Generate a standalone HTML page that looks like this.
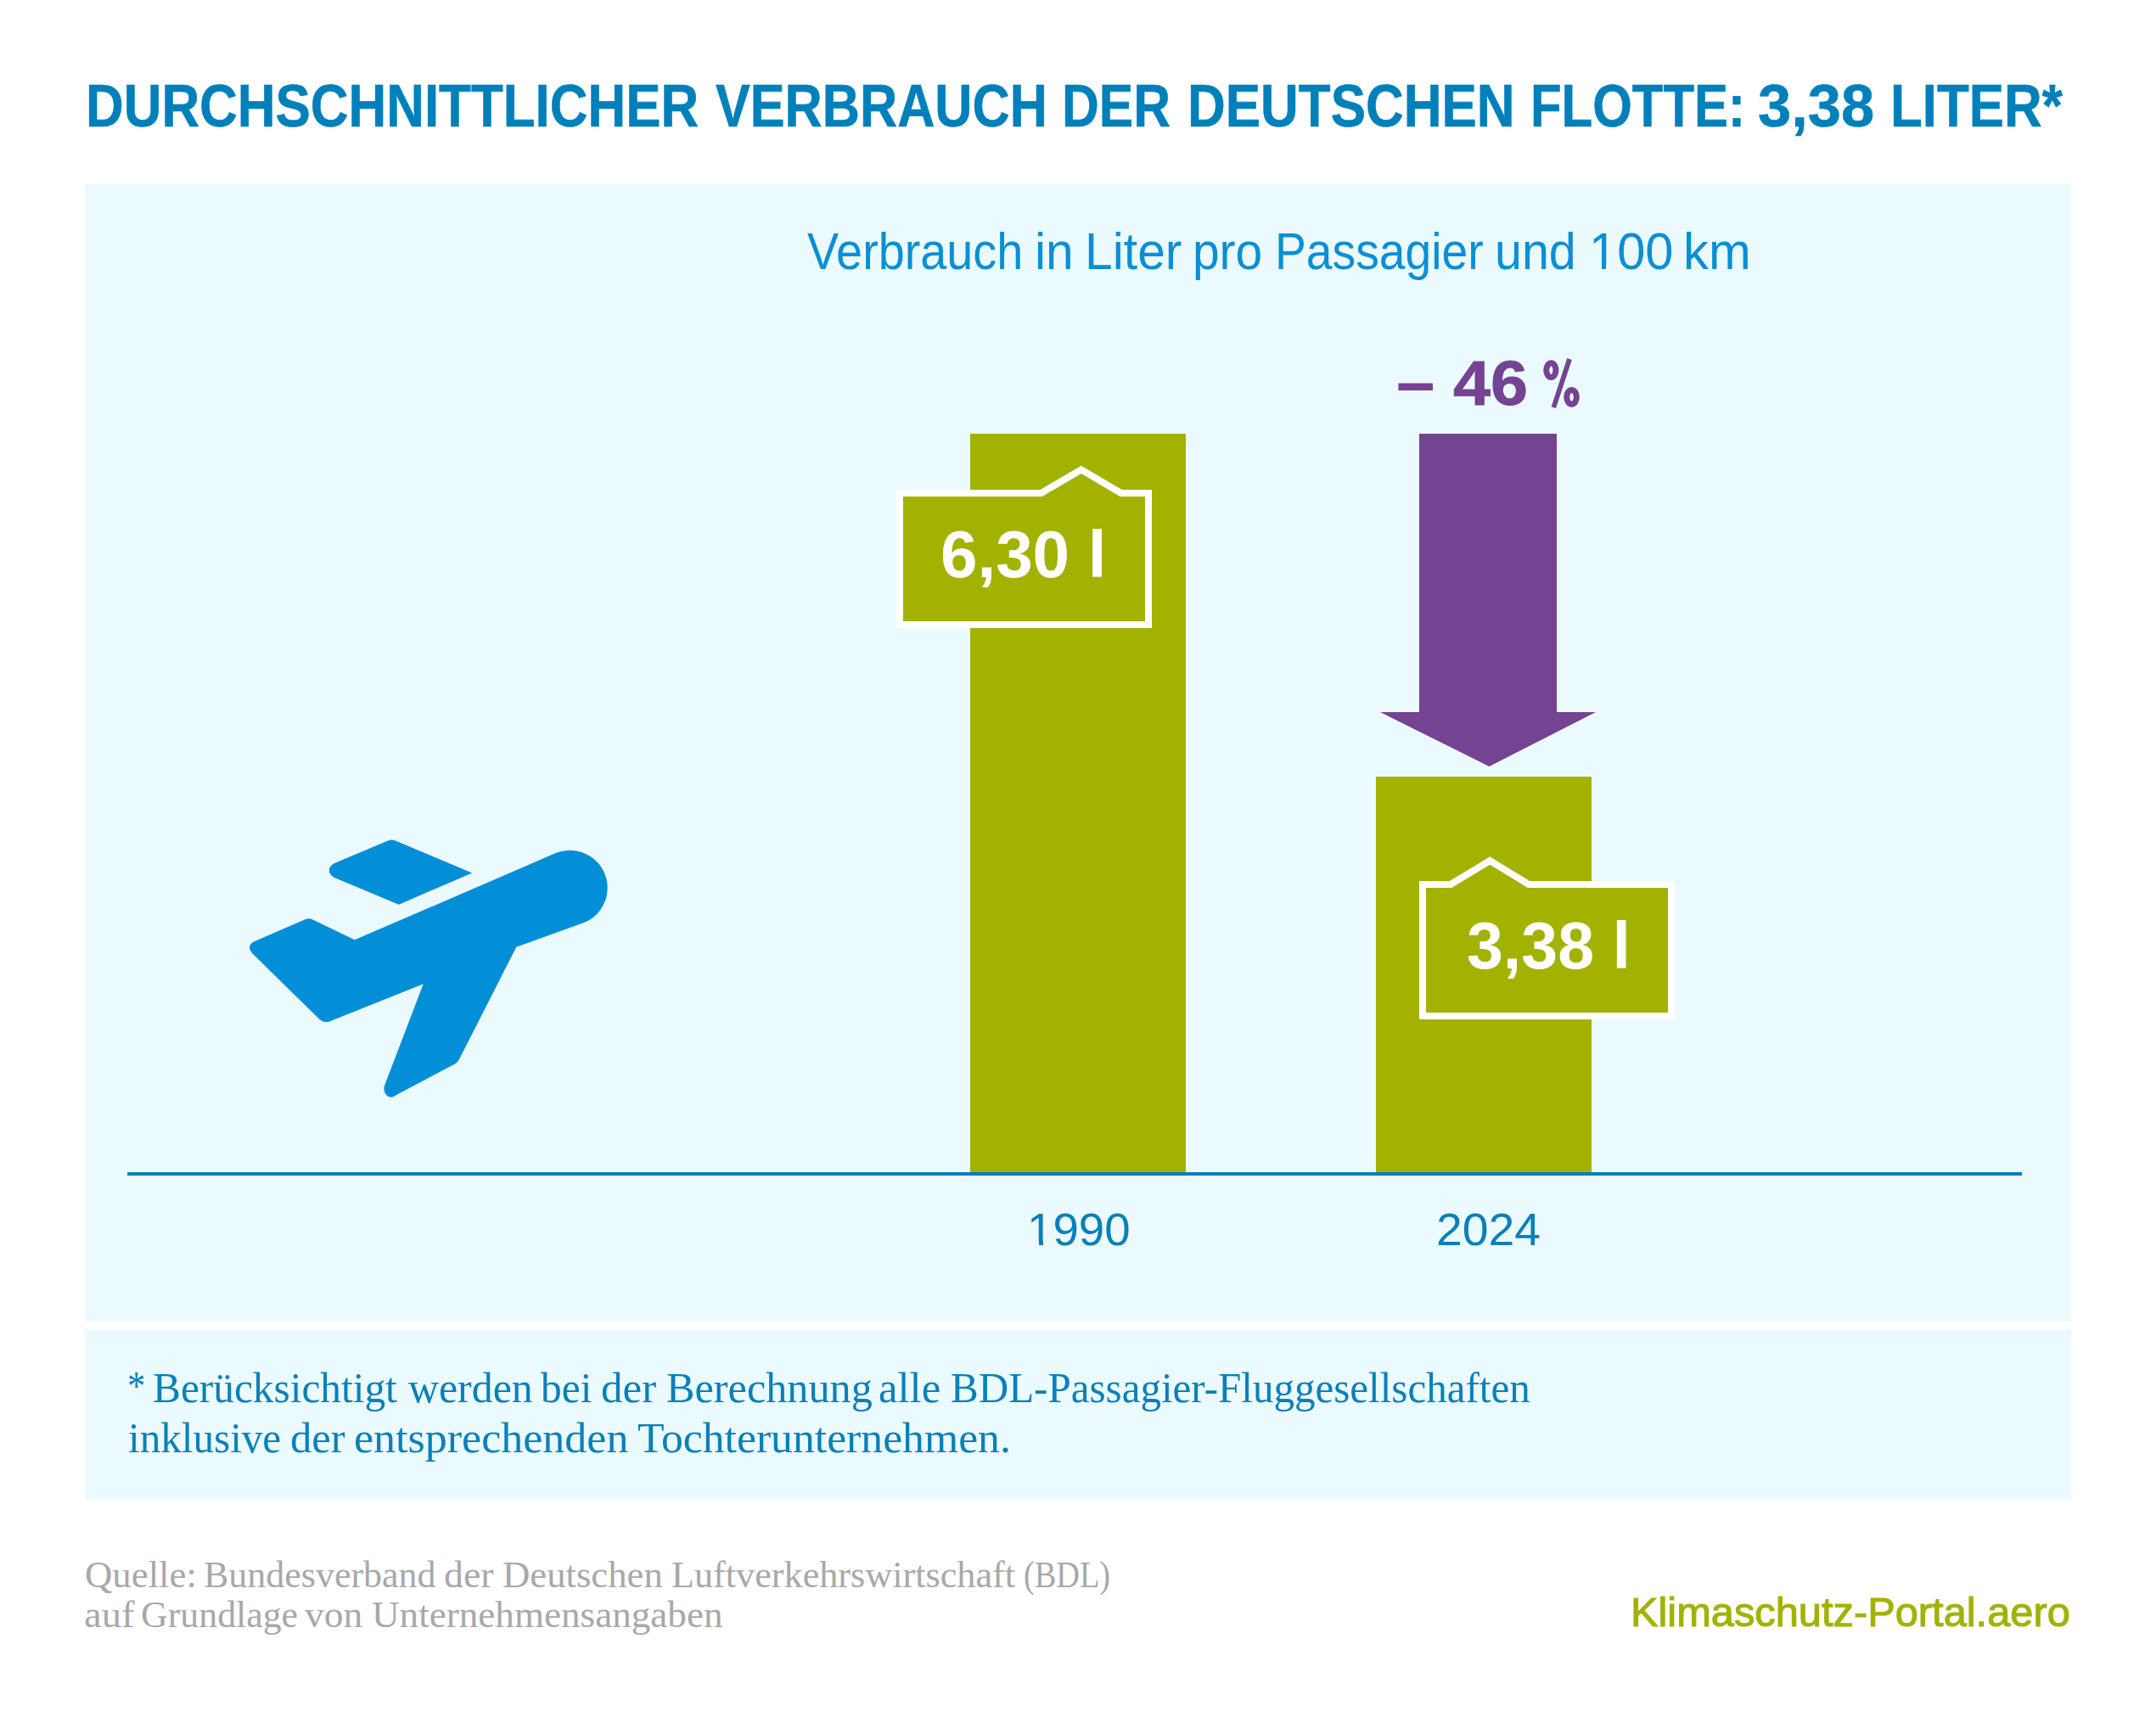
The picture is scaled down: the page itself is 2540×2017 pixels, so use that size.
<!DOCTYPE html>
<html>
<head>
<meta charset="utf-8">
<style>
html,body{margin:0;padding:0;}
body{width:2540px;height:2017px;background:#fff;position:relative;overflow:hidden;font-family:"Liberation Sans",sans-serif;}
.panel{position:absolute;background:#ebfafe;}
.t{position:absolute;white-space:nowrap;line-height:1;transform-origin:0 0;margin:0;}
svg{position:absolute;left:0;top:0;}
</style>
</head>
<body>
<div class="panel" style="left:100px;top:217px;width:2340px;height:1340px;"></div>
<div class="panel" style="left:100px;top:1567px;width:2340px;height:200px;"></div>

<svg width="2540" height="2017" viewBox="0 0 2540 2017">
  <!-- bars -->
  <rect x="1143" y="511" width="254" height="870" fill="#a3b200"/>
  <rect x="1621" y="915" width="254" height="466" fill="#a3b200"/>
  <!-- axis -->
  <rect x="150" y="1381" width="2232" height="4" fill="#007fb6"/>
  <!-- arrow -->
  <path d="M1672 511 H1834 V839 H1880 L1754.5 903 L1626 839 H1672 Z" fill="#744392"/>
  <!-- labels -->
  <path d="M1060 581 H1226.6 L1273.8 553.3 L1320.7 581 H1353 V736 H1060 Z" fill="#a3b200" stroke="#fff" stroke-width="8"/>
  <path d="M1676 1042 H1709 L1755.3 1014 L1801 1042 H1969 V1197 H1676 Z" fill="#a3b200" stroke="#fff" stroke-width="8"/>
  <!-- percent sign -->
  <g fill="none" stroke="#744392" stroke-width="7">
    <ellipse cx="1827.35" cy="436.15" rx="5.6" ry="8.4"/>
    <ellipse cx="1851.55" cy="467.8" rx="5.8" ry="8.4"/>
  </g>
  <path d="M1827.6 479.3 L1833 480.9 L1851.8 423.9 L1846.3 422.1 Z" fill="#744392"/>
  <!-- plane -->
  <g fill="#038fd8">
    <path d="M394 1017 L457 990.5 Q461.6 988.6 466 990.5 L556.2 1028.4 L469.9 1065.7 L394 1034 Q387.8 1031 387.8 1025.5 Q387.8 1020 394 1017 Z"/>
    <path d="M417.8 1107.3 L653.5 1005.6 A44.2 44.2 0 0 1 715.7 1046.1 A44.2 44.2 0 0 1 686.6 1087.6 L608.3 1115.7 L541 1248 Q539 1252 535 1254 L467 1290 Q461 1295 456 1291 Q451 1286 453 1279 L498.7 1159.3 L388 1203.5 Q381.5 1206 376.5 1201 L297 1123 Q292.5 1117.5 294.5 1114 Q296.5 1110 300 1109 L360 1083 Q364 1081.5 368.5 1083.5 Z"/>
  </g>
</svg>

<!--TEXT-->
<div id="title0" class="t" style='left:101.32px;top:88.75px;font-size:71.22px;font-family:"Liberation Sans",sans-serif;font-weight:bold;color:#0080ba;transform:scale(0.8692,1.0000);-webkit-text-stroke:0.6px #0080ba;'>DURCHSCHNITTLICHER</div>
<div id="title1" class="t" style='left:842.60px;top:88.75px;font-size:71.22px;font-family:"Liberation Sans",sans-serif;font-weight:bold;color:#0080ba;transform:scale(0.8590,1.0000);-webkit-text-stroke:0.6px #0080ba;'>VERBRAUCH</div>
<div id="title2" class="t" style='left:1251.49px;top:88.75px;font-size:71.22px;font-family:"Liberation Sans",sans-serif;font-weight:bold;color:#0080ba;transform:scale(0.8517,1.0000);-webkit-text-stroke:0.6px #0080ba;'>DER</div>
<div id="title3" class="t" style='left:1399.12px;top:88.75px;font-size:71.22px;font-family:"Liberation Sans",sans-serif;font-weight:bold;color:#0080ba;transform:scale(0.8699,1.0000);-webkit-text-stroke:0.6px #0080ba;'>DEUTSCHEN</div>
<div id="title4" class="t" style='left:1802.63px;top:88.75px;font-size:71.22px;font-family:"Liberation Sans",sans-serif;font-weight:bold;color:#0080ba;transform:scale(0.8414,1.0000);-webkit-text-stroke:0.6px #0080ba;'>FLOTTE:</div>
<div id="title5" class="t" style='left:2071.01px;top:88.75px;font-size:71.22px;font-family:"Liberation Sans",sans-serif;font-weight:bold;color:#0080ba;transform:scale(0.9890,1.0000);-webkit-text-stroke:0.6px #0080ba;'>3,38</div>
<div id="title6" class="t" style='left:2226.53px;top:88.75px;font-size:71.22px;font-family:"Liberation Sans",sans-serif;font-weight:bold;color:#0080ba;transform:scale(0.8687,1.0000);-webkit-text-stroke:0.6px #0080ba;'>LITER*</div>
<div id="sub0" class="t" style='left:951.00px;top:264.74px;font-size:61.77px;font-family:"Liberation Sans",sans-serif;font-weight:normal;color:#0a8fd5;transform:scale(0.9029,1.0000);'>Verbrauch</div>
<div id="sub1" class="t" style='left:1218.90px;top:264.74px;font-size:61.77px;font-family:"Liberation Sans",sans-serif;font-weight:normal;color:#0a8fd5;transform:scale(0.9500,1.0000);'>in</div>
<div id="sub2" class="t" style='left:1277.64px;top:264.74px;font-size:61.77px;font-family:"Liberation Sans",sans-serif;font-weight:normal;color:#0a8fd5;transform:scale(0.9526,1.0000);'>Liter</div>
<div id="sub3" class="t" style='left:1405.12px;top:264.74px;font-size:61.77px;font-family:"Liberation Sans",sans-serif;font-weight:normal;color:#0a8fd5;transform:scale(0.9205,1.0000);'>pro</div>
<div id="sub4" class="t" style='left:1501.53px;top:264.74px;font-size:61.77px;font-family:"Liberation Sans",sans-serif;font-weight:normal;color:#0a8fd5;transform:scale(0.8941,1.0000);'>Passagier</div>
<div id="sub5" class="t" style='left:1760.88px;top:264.74px;font-size:61.77px;font-family:"Liberation Sans",sans-serif;font-weight:normal;color:#0a8fd5;transform:scale(0.9295,1.0000);'>und</div>
<div id="sub6" class="t" style='left:1871.67px;top:264.74px;font-size:61.77px;font-family:"Liberation Sans",sans-serif;font-weight:normal;color:#0a8fd5;transform:scale(0.9656,1.0000);'>100</div>
<div id="sub7" class="t" style='left:1982.53px;top:264.74px;font-size:61.77px;font-family:"Liberation Sans",sans-serif;font-weight:normal;color:#0a8fd5;transform:scale(0.9676,1.0000);'>km</div>
<div id="pct1" class="t" style='left:1645.14px;top:407.17px;font-size:85.86px;font-family:"Liberation Sans",sans-serif;font-weight:bold;color:#744392;transform:scale(0.9524,1.0000);'>–</div>
<div id="pct2" class="t" style='left:1711.94px;top:413.92px;font-size:74.86px;font-family:"Liberation Sans",sans-serif;font-weight:bold;color:#744392;transform:scale(1.0575,1.0000);-webkit-text-stroke:0.8px #744392;'>46</div>
<div id="l1" class="t" style='left:1107.98px;top:614.50px;font-size:77.68px;font-family:"Liberation Sans",sans-serif;font-weight:bold;color:#fff;transform:scale(1.0054,1.0000);'>6,30 l</div>
<div id="l2" class="t" style='left:1727.62px;top:1075.68px;font-size:77.82px;font-family:"Liberation Sans",sans-serif;font-weight:bold;color:#fff;transform:scale(0.9904,1.0000);'>3,38 l</div>
<div id="y1" class="t" style='left:1210.29px;top:1421.84px;font-size:53.11px;font-family:"Liberation Sans",sans-serif;font-weight:normal;color:#0a7fb8;transform:scale(1.0286,1.0000);'>1990</div>
<div id="y2" class="t" style='left:1692.38px;top:1421.84px;font-size:53.11px;font-family:"Liberation Sans",sans-serif;font-weight:normal;color:#0a7fb8;transform:scale(1.0416,1.0000);'>2024</div>
<div id="ast" class="t" style='left:149.66px;top:1608.82px;font-size:48.23px;font-family:"Liberation Serif",serif;font-weight:normal;color:#0a80b9;transform:scale(0.8789,1.0000);'>*</div>
<div id="fn1_0" class="t" style='left:179.83px;top:1610.11px;font-size:51.00px;font-family:"Liberation Serif",serif;font-weight:normal;color:#0a80b9;transform:scale(0.9676,1.0000);'>Berücksichtigt</div>
<div id="fn1_1" class="t" style='left:480.50px;top:1610.11px;font-size:51.00px;font-family:"Liberation Serif",serif;font-weight:normal;color:#0a80b9;transform:scale(0.9772,1.0000);'>werden</div>
<div id="fn1_2" class="t" style='left:637.40px;top:1610.11px;font-size:51.00px;font-family:"Liberation Serif",serif;font-weight:normal;color:#0a80b9;transform:scale(0.9689,1.0000);'>bei</div>
<div id="fn1_3" class="t" style='left:708.40px;top:1610.11px;font-size:51.00px;font-family:"Liberation Serif",serif;font-weight:normal;color:#0a80b9;transform:scale(1.0016,1.0000);'>der</div>
<div id="fn1_4" class="t" style='left:784.81px;top:1610.11px;font-size:51.00px;font-family:"Liberation Serif",serif;font-weight:normal;color:#0a80b9;transform:scale(0.9857,1.0000);'>Berechnung</div>
<div id="fn1_5" class="t" style='left:1035.41px;top:1610.11px;font-size:51.00px;font-family:"Liberation Serif",serif;font-weight:normal;color:#0a80b9;transform:scale(0.9943,1.0000);'>alle</div>
<div id="fn1_6" class="t" style='left:1119.94px;top:1610.11px;font-size:51.00px;font-family:"Liberation Serif",serif;font-weight:normal;color:#0a80b9;transform:scale(0.9616,1.0000);'>BDL-Passagier-Fluggesellschaften</div>
<div id="fn2_0" class="t" style='left:151.04px;top:1669.31px;font-size:51.00px;font-family:"Liberation Serif",serif;font-weight:normal;color:#0a80b9;transform:scale(0.9636,1.0000);'>inklusive</div>
<div id="fn2_1" class="t" style='left:341.92px;top:1669.31px;font-size:51.00px;font-family:"Liberation Serif",serif;font-weight:normal;color:#0a80b9;transform:scale(0.9921,1.0000);'>der</div>
<div id="fn2_2" class="t" style='left:417.06px;top:1669.31px;font-size:51.00px;font-family:"Liberation Serif",serif;font-weight:normal;color:#0a80b9;transform:scale(1.0197,1.0000);'>entsprechenden</div>
<div id="fn2_3" class="t" style='left:750.99px;top:1669.31px;font-size:51.00px;font-family:"Liberation Serif",serif;font-weight:normal;color:#0a80b9;transform:scale(1.0135,1.0000);'>Tochterunternehmen.</div>
<div id="q1_0" class="t" style='left:99.65px;top:1833.62px;font-size:43.82px;font-family:"Liberation Serif",serif;font-weight:normal;color:#a8a8a8;transform:scale(1.0228,1.0000);'>Quelle:</div>
<div id="q1_1" class="t" style='left:240.10px;top:1833.62px;font-size:43.82px;font-family:"Liberation Serif",serif;font-weight:normal;color:#a8a8a8;transform:scale(1.0037,1.0000);'>Bundesverband</div>
<div id="q1_2" class="t" style='left:522.91px;top:1833.62px;font-size:43.82px;font-family:"Liberation Serif",serif;font-weight:normal;color:#a8a8a8;transform:scale(1.0444,1.0000);'>der</div>
<div id="q1_3" class="t" style='left:591.88px;top:1833.62px;font-size:43.82px;font-family:"Liberation Serif",serif;font-weight:normal;color:#a8a8a8;transform:scale(1.0208,1.0000);'>Deutschen</div>
<div id="q1_4" class="t" style='left:790.79px;top:1833.62px;font-size:43.82px;font-family:"Liberation Serif",serif;font-weight:normal;color:#a8a8a8;transform:scale(1.0088,1.0000);'>Luftverkehrswirtschaft</div>
<div id="q1_5" class="t" style='left:1205.85px;top:1833.62px;font-size:43.82px;font-family:"Liberation Serif",serif;font-weight:normal;color:#a8a8a8;transform:scale(0.8735,1.0000);'>(BDL)</div>
<div id="q2_0" class="t" style='left:99.17px;top:1881.12px;font-size:43.82px;font-family:"Liberation Serif",serif;font-weight:normal;color:#a8a8a8;transform:scale(1.0630,1.0000);'>auf</div>
<div id="q2_1" class="t" style='left:166.10px;top:1881.12px;font-size:43.82px;font-family:"Liberation Serif",serif;font-weight:normal;color:#a8a8a8;'>Grundlage</div>
<div id="q2_2" class="t" style='left:359.00px;top:1881.12px;font-size:43.82px;font-family:"Liberation Serif",serif;font-weight:normal;color:#a8a8a8;transform:scale(1.0385,1.0000);'>von</div>
<div id="q2_3" class="t" style='left:437.97px;top:1881.12px;font-size:43.82px;font-family:"Liberation Serif",serif;font-weight:normal;color:#a8a8a8;transform:scale(1.0300,1.0000);'>Unternehmensangaben</div>
<div id="brand" class="t" style='left:1921.01px;top:1875.16px;font-size:48.98px;font-family:"Liberation Sans",sans-serif;font-weight:normal;color:#a3b200;transform:scale(0.9961,1.0000);-webkit-text-stroke:1.1px #a3b200;'>Klimaschutz-Portal.aero</div>
<!--/TEXT-->
<div style="position:absolute;left:1212px;top:1462px;width:12px;height:6px;background:#ebfafe"></div><div style="position:absolute;left:1229px;top:1462px;width:11px;height:6px;background:#ebfafe"></div>
<div style="position:absolute;left:1875px;top:311.5px;width:12px;height:6px;background:#ebfafe"></div><div style="position:absolute;left:1892px;top:311.5px;width:12px;height:6px;background:#ebfafe"></div>
</body>
</html>
